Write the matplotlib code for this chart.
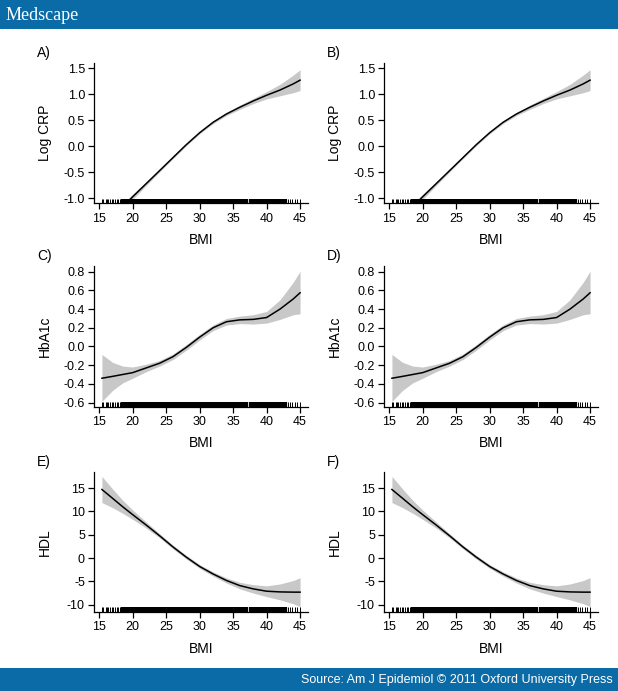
import matplotlib
matplotlib.use("Agg")
import matplotlib.pyplot as plt
from matplotlib.patches import Rectangle

plt.rcParams['font.family'] = ['Liberation Sans', 'DejaVu Sans']
plt.rcParams['axes.unicode_minus'] = False

# BMI grid at which the fitted curves were read
bmi = [15.4, 17, 18.5, 20, 22, 24, 26, 28, 30, 32, 34, 36, 38, 40, 42, 44, 45]

# Log CRP (panels A and B)
crp_fit = [-1.57, -1.37, -1.17, -0.97, -0.72, -0.47, -0.22, 0.03, 0.26, 0.46,
           0.62, 0.75, 0.87, 0.98, 1.08, 1.20, 1.27]
crp_lo = [-1.71, -1.47, -1.24, -1.02, -0.755, -0.495, -0.24, 0.01, 0.24, 0.435,
          0.59, 0.71, 0.82, 0.91, 0.97, 1.03, 1.07]
crp_hi = [-1.43, -1.27, -1.10, -0.92, -0.685, -0.445, -0.20, 0.05, 0.28, 0.485,
          0.65, 0.79, 0.92, 1.05, 1.19, 1.37, 1.47]

# HbA1c (panels C and D)
hba_fit = [-0.34, -0.32, -0.30, -0.28, -0.23, -0.18, -0.11, -0.01, 0.10, 0.20,
           0.265, 0.285, 0.29, 0.31, 0.40, 0.51, 0.575]
hba_lo = [-0.587, -0.47, -0.39, -0.34, -0.27, -0.21, -0.14, -0.04, 0.07, 0.17,
          0.23, 0.245, 0.24, 0.25, 0.29, 0.34, 0.35]
hba_hi = [-0.085, -0.17, -0.21, -0.22, -0.19, -0.15, -0.08, 0.02, 0.13, 0.23,
          0.30, 0.325, 0.34, 0.375, 0.50, 0.69, 0.806]

# HDL (panels E and F)
hdl_fit = [14.7, 12.8, 11.0, 9.3, 7.1, 4.8, 2.4, 0.2, -1.8, -3.4,
           -4.8, -5.9, -6.6, -7.1, -7.25, -7.3, -7.3]
hdl_lo = [11.9, 10.8, 9.6, 8.3, 6.45, 4.35, 2.0, -0.2, -2.2, -3.85,
          -5.35, -6.6, -7.5, -8.25, -8.95, -9.8, -10.4]
hdl_hi = [17.5, 14.8, 12.4, 10.3, 7.75, 5.25, 2.8, 0.6, -1.4, -2.95,
          -4.25, -5.2, -5.7, -5.95, -5.55, -4.8, -4.2]

# rug of observed BMI values
rug_sparse = [15.37, 15.61, 15.97, 16.12, 16.35, 16.61, 16.86, 17.01, 17.35,
              17.61, 17.85, 18.1, 43.24, 43.5, 43.84, 44.24, 44.5, 45.0]
rug_dense = [18.4, 18.6, 18.8, 19.0, 19.2, 19.4, 19.6, 19.8, 20.0, 20.2, 20.4,
             20.6, 20.8, 21.0, 21.2, 21.4, 21.6, 21.8, 22.0, 22.2, 22.4, 22.6,
             22.8, 23.0, 23.2, 23.4, 23.6, 23.8, 24.0, 24.2, 24.4, 24.6, 24.8,
             25.0, 25.2, 25.4, 25.6, 25.8, 26.0, 26.2, 26.4, 26.6, 26.8, 27.0,
             27.2, 27.4, 27.6, 27.8, 28.0, 28.2, 28.4, 28.6, 28.8, 29.0, 29.2,
             29.4, 29.6, 29.8, 30.0, 30.2, 30.4, 30.6, 30.8, 31.0, 31.2, 31.4,
             31.6, 31.8, 32.0, 32.2, 32.4, 32.6, 32.8, 33.0, 33.2, 33.4, 33.6,
             33.8, 34.0, 34.2, 34.4, 34.6, 34.8, 35.0, 35.2, 35.4, 35.6, 35.8,
             36.0, 36.2, 36.4, 36.6, 36.8, 37.0, 37.5, 37.7, 37.9, 38.1, 38.3,
             38.5, 38.7, 38.9, 39.1, 39.3, 39.5, 39.7, 39.9, 40.1, 40.3, 40.5,
             40.7, 40.9, 41.1, 41.3, 41.5, 41.7, 41.9, 42.1, 42.3, 42.5, 42.7,
             42.9]

panels = [
    ("A)", "Log CRP", crp_fit, crp_lo, crp_hi, [-1.0, -0.5, 0.0, 0.5, 1.0, 1.5], "{:.1f}", (-1.0, 1.5)),
    ("C)", "HbA1c", hba_fit, hba_lo, hba_hi, [-0.6, -0.4, -0.2, 0.0, 0.2, 0.4, 0.6, 0.8], "{:.1f}", (-0.587, 0.806)),
    ("E)", "HDL", hdl_fit, hdl_lo, hdl_hi, [-10, -5, 0, 5, 10, 15], "{:.0f}", (-10.44, 17.44)),
]
right_labels = ["B)", "D)", "F)"]

W, H = 618, 691
fig = plt.figure(figsize=(W / 100, H / 100), dpi=100)

band_color = "#c8c8c8"
lefts = [94, 384]
tops = [63, 266, 471.5]
box_w, box_h = 214, 140.5


def r_extend(lo, hi):
    ext = (hi - lo) * 0.04
    return lo - ext, hi + ext


for row, (lab, ylab, fit, lo, hi, yticks, fmt, yr) in enumerate(panels):
    for col in range(2):
        left = lefts[col]
        top = tops[row]
        ax = fig.add_axes([left / W, 1 - (top + box_h) / H, box_w / W, box_h / H])
        ax.fill_between(bmi, lo, hi, color=band_color, linewidth=0)
        ax.plot(bmi, fit, color="black", linewidth=1.1)
        ax.vlines(rug_sparse, 0, 0.035, transform=ax.get_xaxis_transform(),
                  color="black", linewidth=0.7)
        ax.vlines(rug_dense, 0, 0.035, transform=ax.get_xaxis_transform(),
                  color="black", linewidth=1.6)
        ax.set_xlim(*r_extend(15.4, 45))
        ax.set_ylim(*r_extend(*yr))
        ax.set_xticks([15, 20, 25, 30, 35, 40, 45])
        ax.set_yticks(yticks)
        ax.set_yticklabels([fmt.format(v) for v in yticks])
        for s in ["top", "right"]:
            ax.spines[s].set_visible(False)
        for s in ["left", "bottom"]:
            ax.spines[s].set_linewidth(0.9)
        ax.tick_params(direction="out", length=4, width=0.9, labelsize=9, pad=2.5)
        ax.text(-0.229, 0.5, ylab, rotation=90, ha="center", va="center",
                fontsize=10, transform=ax.transAxes)
        ax.text(0.5, -0.262, "BMI", ha="center", va="center", fontsize=10,
                transform=ax.transAxes)
        ax.text(-0.266, 1.071, lab if col == 0 else right_labels[row],
                ha="left", va="center", fontsize=10, transform=ax.transAxes)

blue = "#0b6ba6"
fig.add_artist(Rectangle((0, 1 - 29 / H), 1, 29 / H, transform=fig.transFigure,
                         facecolor=blue, edgecolor="none"))
fig.add_artist(Rectangle((0, 0), 1, 23 / H, transform=fig.transFigure,
                         facecolor=blue, edgecolor="none"))
fig.text(6 / W, 1 - 15 / H, "Medscape", color="white", fontsize=13,
         family="Liberation Serif", ha="left", va="center")
fig.text(613 / W, 10.5 / H, "Source: Am J Epidemiol \u00a9 2011 Oxford University Press",
         color="white", fontsize=9, ha="right", va="center")

fig.savefig("out.png", dpi=100)
